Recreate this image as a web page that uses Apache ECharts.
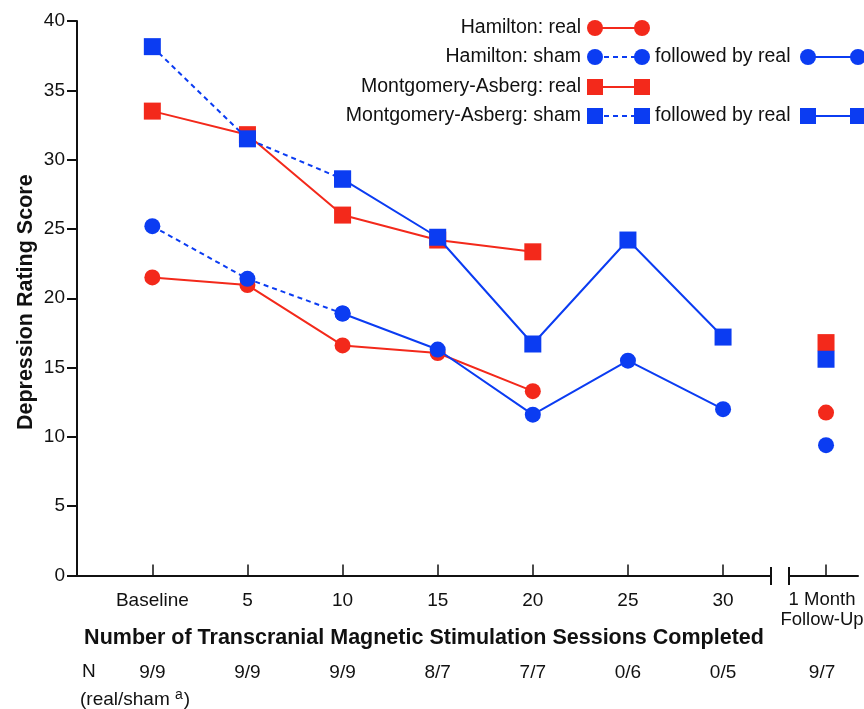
<!DOCTYPE html>
<html>
<head>
<meta charset="utf-8">
<script src="https://cdn.jsdelivr.net/npm/echarts@6/dist/echarts.min.js"></script>
<style>
html,body{margin:0;padding:0;background:#fff;}
#chart{width:864px;height:709px;}
</style>
</head>
<body>
<div id="chart"></div>
<script>
// ---- data ----
const categories = ['Baseline', '5', '10', '15', '20', '25', '30'];
const followLabel = '1 Month\nFollow-Up';
const nLabels = ['9/9', '9/9', '9/9', '8/7', '7/7', '0/6', '0/5'];
const nFollow = '9/7';
const hamiltonReal = [21.5, 20.95, 16.6, 16.05, 13.3, null, null];
const hamiltonSham = [25.2, 21.4, 18.9, 16.3, 11.6, 15.5, 12.0];   // sham up to index 2, then real
const montgomeryReal = [33.5, 31.8, 26.0, 24.2, 23.35, null, null];
const montgomerySham = [38.15, 31.5, 28.6, 24.4, 16.7, 24.2, 17.2];
const shamEndIndex = 2;
const followHamiltonReal = 11.75;
const followHamiltonSham = 9.4;
const followMontgomeryReal = 16.8;
const followMontgomerySham = 15.6;
const legendLabels = ['Hamilton: real', 'Hamilton: sham', 'Montgomery-Asberg: real', 'Montgomery-Asberg: sham'];
const followedLabel = 'followed by real';
const yName = 'Depression Rating Score';
const xName = 'Number of Transcranial Magnetic Stimulation Sessions Completed';
const nHeading = 'N';
const nSubHeading = '(real/sham';
const nSup = 'a';

// ---- styling ----
const FONT = "'Liberation Sans', Arial, Helvetica, sans-serif";
const RED = '#f3291b';
const BLUE = '#0b3cf2';
const INK = '#111';

const idx = categories.map((_, i) => i);
function pts(arr, from, to) {
  const out = [];
  arr.forEach((v, i) => { if (v != null && i >= from && i <= to) out.push([i, v]); });
  return out;
}

function lineSeries(name, data, color, symbol, size, dashed) {
  return {
    name, type: 'line', xAxisIndex: 0, yAxisIndex: 0, data,
    symbol, symbolSize: size, showAllSymbol: true,
    itemStyle: { color, opacity: 1 },
    lineStyle: { color, width: 2, type: dashed ? [5, 4] : 'solid' },
    z: color === BLUE ? 3 : 2
  };
}
function followSeries(name, value, color, symbol, size) {
  return {
    name, type: 'scatter', xAxisIndex: 1, yAxisIndex: 1,
    data: [[0, value]], symbol, symbolSize: size,
    itemStyle: { color, opacity: 1 }, z: color === BLUE ? 3 : 2
  };
}

const chart = echarts.init(document.getElementById('chart'), null, { renderer: 'canvas' });

const xMin0 = -0.792, xMax0 = 6.504;
const xMin1 = -0.389, xMax1 = 0.336;

// legend graphics
const rowsY = [28, 57, 87, 116];
const textRight = 581;
const s1a = 595, s1b = 642;
const followTextX = 655;
const s2a = 808, s2b = 858;
function sym(kind, cx, cy, color) {
  if (kind === 'circle') return { type: 'circle', shape: { cx, cy, r: 8 }, style: { fill: color }, z: 10 };
  return { type: 'rect', shape: { x: cx - 8, y: cy - 8, width: 16, height: 16 }, style: { fill: color }, z: 10 };
}
function sample(kind, x1, x2, y, color, dashed) {
  return [
    { type: 'line', shape: { x1, y1: y, x2, y2: y }, style: { stroke: color, lineWidth: 2, lineDash: dashed ? [5, 4] : null }, z: 9 },
    sym(kind, x1, y, color), sym(kind, x2, y, color)
  ];
}
const legendSpec = [
  { kind: 'circle', color: RED, dashed: false, followed: false },
  { kind: 'circle', color: BLUE, dashed: true, followed: true },
  { kind: 'rect', color: RED, dashed: false, followed: false },
  { kind: 'rect', color: BLUE, dashed: true, followed: true }
];
const graphics = [];
legendSpec.forEach((s, i) => {
  const y = rowsY[i];
  graphics.push({ type: 'text', x: textRight, y, style: { text: legendLabels[i], font: '19.5px ' + FONT, fill: INK, align: 'right', verticalAlign: 'middle' } });
  graphics.push(...sample(s.kind, s1a, s1b, y, s.color, s.dashed));
  if (s.followed) {
    graphics.push({ type: 'text', x: followTextX, y, style: { text: followedLabel, font: '19.5px ' + FONT, fill: INK, align: 'left', verticalAlign: 'middle' } });
    graphics.push(...sample(s.kind, s2a, s2b, y, s.color, false));
  }
});
// axis break marks
[771, 789].forEach(x => graphics.push({ type: 'line', shape: { x1: x, y1: 567, x2: x, y2: 585 }, style: { stroke: INK, lineWidth: 2 } }));
// N row headings
graphics.push({ type: 'text', x: 82, y: 672, style: { text: nHeading, font: '19px ' + FONT, fill: INK, verticalAlign: 'middle' } });
graphics.push({ type: 'text', x: 80, y: 700, style: {
  text: nSubHeading + ' {sup|' + nSup + '}{par|)}', font: '19px ' + FONT, fill: INK, verticalAlign: 'middle',
  rich: {
    sup: { fontSize: 14, fontFamily: FONT, fill: INK, lineHeight: 14, padding: [0, 1, 9, 0] },
    par: { fontSize: 19, fontFamily: FONT, fill: INK }
  }
} });

const axisLineStyle = { onZero: false, lineStyle: { color: INK, width: 2 } };

const option = {
  animation: false,
  backgroundColor: '#fff',
  textStyle: { fontFamily: FONT },
  grid: [
    { left: 77, top: 21, right: 93, bottom: 133.5, outerBoundsMode: 'none', containLabel: false },
    { left: 789, top: 21, right: 6, bottom: 133.5, outerBoundsMode: 'none', containLabel: false }
  ],
  xAxis: [
    {
      gridIndex: 0, type: 'value', min: xMin0, max: xMax0,
      axisLine: axisLineStyle,
      axisTick: { show: true, inside: true, length: 11, lineStyle: { color: INK, width: 1.5 }, customValues: idx },
      axisLabel: { customValues: idx, formatter: v => categories[Math.round(v)], fontSize: 19, color: INK, margin: 16, fontFamily: FONT },
      splitLine: { show: false },
      name: xName, nameLocation: 'middle', nameGap: 52,
      nameTextStyle: { fontSize: 21.5, fontWeight: 'bold', color: INK, fontFamily: FONT }
    },
    {
      gridIndex: 1, type: 'value', min: xMin1, max: xMax1,
      axisLine: axisLineStyle,
      axisTick: { show: true, inside: true, length: 11, lineStyle: { color: INK, width: 1.5 }, customValues: [0] },
      axisLabel: { customValues: [0], formatter: () => followLabel, fontSize: 18.5, lineHeight: 20, color: INK, margin: 14, padding: [0, 8, 0, 0], fontFamily: FONT },
      splitLine: { show: false }
    },
    {
      gridIndex: 0, type: 'value', min: xMin0, max: xMax0, position: 'bottom',
      axisLine: { show: false, onZero: false }, axisTick: { show: false }, splitLine: { show: false },
      axisLabel: { customValues: idx, formatter: v => nLabels[Math.round(v)], fontSize: 19, color: INK, margin: 88, fontFamily: FONT }
    },
    {
      gridIndex: 1, type: 'value', min: xMin1, max: xMax1, position: 'bottom',
      axisLine: { show: false, onZero: false }, axisTick: { show: false }, splitLine: { show: false },
      axisLabel: { customValues: [0], formatter: () => nFollow, fontSize: 19, color: INK, margin: 88, padding: [0, 8, 0, 0], fontFamily: FONT }
    }
  ],
  yAxis: [
    {
      gridIndex: 0, type: 'value', min: 0, max: 40, interval: 5,
      axisLine: { show: true, onZero: false, lineStyle: { color: INK, width: 2 } },
      axisTick: { show: true, length: 10, lineStyle: { color: INK, width: 2 } },
      axisLabel: { fontSize: 19, color: INK, margin: 12, fontFamily: FONT },
      splitLine: { show: false },
      name: yName, nameLocation: 'middle', nameGap: 40, nameMoveOverlap: false,
      nameTextStyle: { fontSize: 21.5, fontWeight: 'bold', color: INK, fontFamily: FONT, padding: [0, 8, 0, 0] }
    },
    { gridIndex: 1, type: 'value', min: 0, max: 40, show: false, splitLine: { show: false } }
  ],
  graphic: graphics,
  series: [
    lineSeries('Hamilton: real', pts(hamiltonReal, 0, 6), RED, 'circle', 16, false),
    lineSeries('Montgomery-Asberg: real', pts(montgomeryReal, 0, 6), RED, 'rect', 17, false),
    lineSeries('Hamilton: sham', pts(hamiltonSham, 0, shamEndIndex), BLUE, 'circle', 16, true),
    lineSeries('Hamilton: followed by real', pts(hamiltonSham, shamEndIndex, 6), BLUE, 'circle', 16, false),
    lineSeries('Montgomery-Asberg: sham', pts(montgomerySham, 0, shamEndIndex), BLUE, 'rect', 17, true),
    lineSeries('Montgomery-Asberg: followed by real', pts(montgomerySham, shamEndIndex, 6), BLUE, 'rect', 17, false),
    followSeries('Hamilton real FU', followHamiltonReal, RED, 'circle', 16),
    followSeries('Montgomery real FU', followMontgomeryReal, RED, 'rect', 17),
    followSeries('Hamilton sham FU', followHamiltonSham, BLUE, 'circle', 16),
    followSeries('Montgomery sham FU', followMontgomerySham, BLUE, 'rect', 17)
  ]
};
chart.setOption(option);
</script>
</body>
</html>
